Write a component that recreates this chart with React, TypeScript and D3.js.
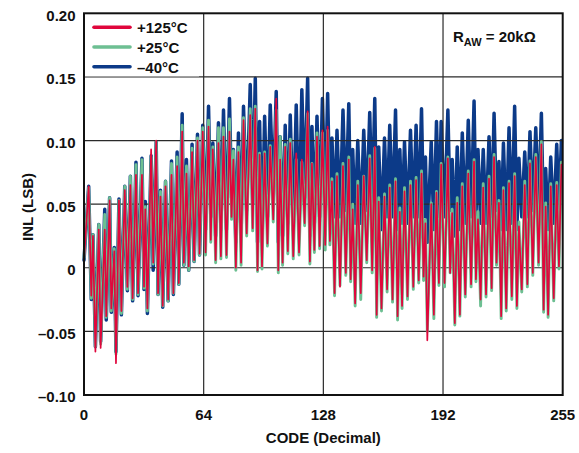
import React from "react";
import * as d3 from "d3";

// Codes (decimal) of the plotted points (peaks and troughs of the INL curves)
const CODES: number[] = [
  0, 2.5, 3.9, 4.8, 6.1, 7.9, 8.9, 11.1, 11.9, 13.7, 14.6, 16.2, 17.1, 18.7, 20.0, 21.8, 23.2, 24.8, 26.0, 27.8,
  28.9, 31.0, 32.1, 32.8, 33.9, 35.9, 37.0, 38.6, 39.6, 40.9, 42.1, 43.6, 45.0, 46.8, 47.8, 49.8, 50.7, 52.5, 53.4, 54.8,
  56.0, 57.8, 58.9, 60.7, 61.8, 63.5,
  65.0, 66.6, 67.8, 68.9, 70.4, 71.9, 73.2, 74.6, 76.2, 77.8, 78.9, 79.9, 81.2, 82.6, 84.0, 85.3, 87.0, 88.9, 90.2, 91.6,
  92.8, 93.9, 95.2, 96.6, 98.1, 99.6, 101.2, 102.8, 103.9, 104.9, 106.2, 107.6, 109.0, 110.3, 111.9, 113.5, 115.0, 116.5, 118.0, 119.6,
  120.8, 121.9, 123.2, 124.6, 126.0, 127.5,
  129.0, 130.3, 131.5, 132.6, 134.0, 135.3, 136.9, 138.5, 140.0, 141.6, 142.6, 143.7, 145.0, 146.4, 148.0, 149.6, 151.2, 152.8, 154.1, 155.5,
  156.5, 157.6, 159.1, 160.7, 162.1, 163.5, 165.0, 166.6, 167.7, 168.9, 170.1, 171.4, 173.0, 174.6, 176.1, 177.6, 179.0, 180.5, 181.6, 182.6,
  183.6, 185.7, 187.1, 188.5, 189.8, 191.0,
  192.8, 194.6, 195.8, 196.9, 198.3, 199.6, 201.0, 202.3, 203.9, 205.5, 207.0, 208.6, 209.6, 210.7, 212.1, 213.5, 215.0, 216.6, 218.0, 219.3,
  220.6, 221.9, 223.1, 224.3, 225.8, 227.3, 228.8, 230.3, 231.5, 232.6, 234.1, 235.7, 237.1, 238.5, 240.0, 241.6, 243.1, 244.6, 245.8, 246.9,
  248.2, 249.6, 251.2, 252.8, 254.0, 255.3,
];

// INL (LSB) at +125°C
const INL_125C: number[] = [
  0.005, 0.064, -0.022, 0.025, -0.066, 0.030, -0.063, 0.030, -0.038, 0.053, -0.032, 0.013, -0.075, 0.053, -0.034, 0.061, -0.015, 0.065, -0.024, 0.073,
  -0.020, 0.073, -0.015, 0.046, -0.032, 0.093, 0.004, 0.100, -0.020, 0.056, -0.030, 0.064, -0.025, 0.073, -0.020, 0.080, -0.012, 0.107, 0.004, 0.074,
  0.001, 0.091, 0.006, 0.100, 0.011, 0.107,
  0.012, 0.111, 0.022, 0.093, 0.006, 0.098, 0.009, 0.103, 0.010, 0.107, 0.040, 0.085, 0.000, 0.091, 0.004, 0.116, 0.027, 0.120, 0.031, 0.125,
  -0.002, 0.089, 0.001, 0.090, 0.019, 0.095, 0.038, 0.133, -0.002, 0.085, 0.004, 0.095, 0.013, 0.098, 0.009, 0.090, 0.012, 0.085, 0.035, 0.123,
  0.005, 0.082, 0.014, 0.103, 0.017, 0.108,
  0.018, 0.111, 0.021, 0.068, -0.020, 0.072, -0.015, 0.080, -0.004, 0.085, -0.009, 0.046, -0.028, 0.065, -0.020, 0.072, 0.006, 0.086, -0.002, 0.095,
  -0.037, 0.052, -0.032, 0.056, -0.017, 0.063, -0.025, 0.068, -0.038, 0.044, -0.030, 0.060, -0.0225, 0.065, -0.015, 0.069, -0.010, 0.074, -0.007, 0.035,
  -0.057, 0.050, -0.037, 0.059, -0.012, 0.081,
  -0.012, 0.086, -0.004, 0.043, -0.0435, 0.051, -0.037, 0.064, -0.021, 0.074, -0.013, 0.0835, -0.009, 0.038, -0.025, 0.063, -0.021, 0.070, -0.016, 0.087,
  0.004, 0.051, -0.038, 0.061, -0.032, 0.0665, -0.0225, 0.072, -0.030, 0.0325, -0.017, 0.065, -0.013, 0.082, -0.004, 0.087, 0.004, 0.097, -0.033, 0.048,
  -0.037, 0.064, -0.024, 0.065, 0.001, 0.081,
];

// INL (LSB) at +25°C
const INL_25C: number[] = [
  0.008, 0.063, -0.024, 0.026, -0.062, 0.034, -0.060, 0.042, -0.039, 0.055, -0.034, 0.015, -0.068, 0.053, -0.036, 0.064, -0.017, 0.072, -0.025, 0.081,
  -0.021, 0.085, -0.016, 0.048, -0.034, 0.087, 0.003, 0.099, -0.021, 0.060, -0.030, 0.068, -0.026, 0.082, -0.020, 0.087, -0.013, 0.112, 0.002, 0.080,
  -0.002, 0.094, 0.005, 0.102, 0.010, 0.110,
  0.010, 0.116, 0.020, 0.095, 0.004, 0.110, 0.007, 0.110, 0.008, 0.117, 0.038, 0.092, -0.002, 0.095, 0.002, 0.118, 0.025, 0.125, 0.029, 0.127,
  -0.003, 0.090, -0.001, 0.091, 0.017, 0.096, 0.036, 0.124, -0.004, 0.103, 0.002, 0.097, 0.011, 0.101, 0.007, 0.085, 0.010, 0.083, 0.033, 0.121,
  0.003, 0.082, 0.012, 0.106, 0.015, 0.106,
  0.014, 0.108, 0.018, 0.070, -0.022, 0.074, -0.014, 0.082, -0.006, 0.087, -0.011, 0.050, -0.030, 0.068, -0.025, 0.072, 0.004, 0.088, -0.004, 0.094,
  -0.039, 0.055, -0.034, 0.058, -0.019, 0.065, -0.027, 0.070, -0.041, 0.047, -0.032, 0.063, -0.025, 0.068, -0.017, 0.071, -0.012, 0.076, -0.010, 0.038,
  -0.050, 0.051, -0.040, 0.060, -0.014, 0.082,
  -0.015, 0.087, -0.004, 0.046, -0.045, 0.055, -0.038, 0.066, -0.023, 0.076, -0.015, 0.085, -0.011, 0.044, -0.030, 0.066, -0.023, 0.072, -0.018, 0.089,
  0.002, 0.053, -0.040, 0.063, -0.034, 0.068, -0.025, 0.074, -0.032, 0.036, -0.019, 0.068, -0.015, 0.084, -0.006, 0.089, 0.002, 0.099, -0.035, 0.051,
  -0.039, 0.066, -0.026, 0.067, -0.001, 0.083,
];

// INL (LSB) at –40°C
const INL_M40C: number[] = [
  0.006, 0.064, -0.025, 0.026, -0.062, 0.034, -0.058, 0.046, -0.041, 0.055, -0.035, 0.016, -0.066, 0.054, -0.037, 0.064, -0.018, 0.072, -0.026, 0.083,
  -0.022, 0.086, -0.017, 0.052, -0.036, 0.088, -0.002, 0.099, -0.021, 0.061, -0.031, 0.068, -0.026, 0.084, -0.021, 0.091, -0.013, 0.121, 0.002, 0.085,
  -0.002, 0.097, 0.005, 0.105, 0.010, 0.112,
  0.030, 0.127, 0.040, 0.098, 0.025, 0.114, 0.030, 0.124, 0.030, 0.133, 0.055, 0.093, 0.020, 0.106, 0.025, 0.127, 0.045, 0.144, 0.050, 0.149,
  0.020, 0.115, 0.020, 0.119, 0.040, 0.128, 0.055, 0.1385, 0.020, 0.103, 0.025, 0.112, 0.035, 0.120, 0.030, 0.128, 0.030, 0.140, 0.055, 0.149,
  0.025, 0.111, 0.035, 0.119, 0.040, 0.133,
  0.050, 0.137, 0.050, 0.102, 0.040, 0.108, 0.040, 0.124, 0.045, 0.129, 0.040, 0.093, 0.035, 0.100, 0.035, 0.108, 0.045, 0.122, 0.045, 0.133,
  0.030, 0.095, 0.030, 0.102, 0.040, 0.112, 0.040, 0.124, 0.030, 0.093, 0.035, 0.099, 0.035, 0.108, 0.040, 0.112, 0.040, 0.125, 0.040, 0.087,
  0.020, 0.099, 0.030, 0.115, 0.040, 0.115,
  0.040, 0.124, 0.045, 0.085, 0.025, 0.095, 0.030, 0.106, 0.035, 0.116, 0.040, 0.131, 0.040, 0.093, 0.035, 0.093, 0.035, 0.103, 0.040, 0.1215,
  0.045, 0.0835, 0.030, 0.098, 0.030, 0.110, 0.035, 0.127, 0.030, 0.086, 0.040, 0.091, 0.040, 0.107, 0.045, 0.110, 0.045, 0.1215, 0.030, 0.078,
  0.030, 0.087, 0.035, 0.097, 0.045, 0.100,
];

const X_TICKS: number[] = [0, 64, 128, 192, 256];
const X_TICK_LABELS: string[] = ["0", "64", "128", "192", "255"];
const Y_TICKS: number[] = [0.2, 0.15, 0.1, 0.05, 0, -0.05, -0.1];
const Y_TICK_LABELS: string[] = ["0.20", "0.15", "0.10", "0.05", "0", "–0.05", "–0.10"];

const SERIES = [
  { name: "+125°C", values: INL_125C, color: "#e0063c", width: 1.7 },
  { name: "+25°C", values: INL_25C, color: "#6dbf92", width: 2.9 },
  { name: "–40°C", values: INL_M40C, color: "#0c3a88", width: 3.5 },
];

const FONT = "'Liberation Sans', Arial, Helvetica, sans-serif";

export default function App() {
  const W = 579, H = 453;
  const L = 84, R = 562.7, T = 13.3, B = 395;
  const x = d3.scaleLinear().domain([0, 256]).range([L, R]);
  const y = d3.scaleLinear().domain([-0.1, 0.2]).range([B, T]);

  const mk = (vals: number[]) =>
    d3.line<number>().x((_, i) => x(CODES[i])).y((v) => y(v))(vals) || "";

  const blue = SERIES[2], green = SERIES[1], red = SERIES[0];
  const gridColor = "#2a2a2a";

  return (
    <div style={{ position: "fixed", left: 0, top: 0 }}>
      <svg width={W} height={H} style={{ display: "block", background: "#fff" }}>
        <rect x={0} y={0} width={W} height={H} fill="#fff" />
        <path d={mk(blue.values)} fill="none" stroke={blue.color} strokeWidth={blue.width}
          strokeLinejoin="round" strokeLinecap="round" />
        {Y_TICKS.filter((t) => t !== 0.2 && t !== -0.1).map((t) => (
          <line key={"gy" + t} x1={L} x2={R} y1={y(t)} y2={y(t)} stroke={gridColor} strokeWidth={1.2} />
        ))}
        {X_TICKS.filter((t) => t !== 0 && t !== 256).map((t) => (
          <line key={"gx" + t} x1={x(t)} x2={x(t)} y1={T} y2={B} stroke={gridColor} strokeWidth={1.2} />
        ))}
        <path d={mk(green.values)} fill="none" stroke={green.color} strokeWidth={green.width}
          strokeLinejoin="round" strokeLinecap="round" />
        <path d={mk(red.values)} fill="none" stroke={red.color} strokeWidth={red.width}
          strokeLinejoin="round" strokeLinecap="round" />
        <rect x={L + 1} y={T + 1} width={199 - L - 1} height={77 - T - 1.6} fill="#fff" />
        <rect x={L} y={T} width={R - L} height={B - T} fill="none" stroke="#111" strokeWidth={2} />
        {SERIES.map((s, i) => (
          <g key={s.name}>
            <line x1={94} x2={130} y1={27.3 + i * 19.7} y2={27.3 + i * 19.7} stroke={s.color} strokeWidth={3.6}
              strokeLinecap="round" />
            <text x={137} y={33 + i * 19.8} fontFamily={FONT} fontWeight="bold" fontSize={15} fill="#111">
              {s.name}
            </text>
          </g>
        ))}
        <text x={453} y={42} fontFamily={FONT} fontWeight="bold" fontSize={15} fill="#111">
          R<tspan fontSize={11} dy={3.5}>AW</tspan><tspan dy={-3.5}> = 20kΩ</tspan>
        </text>
        {Y_TICKS.map((t, i) => (
          <text key={"yl" + t} x={75.5} y={y(t) + 7.4} textAnchor="end" fontFamily={FONT} fontWeight="bold"
            fontSize={15} fill="#111">
            {Y_TICK_LABELS[i]}
          </text>
        ))}
        {X_TICKS.map((t, i) => (
          <text key={"xl" + t} x={x(t)} y={420} textAnchor="middle" fontFamily={FONT} fontWeight="bold"
            fontSize={15} fill="#111">
            {X_TICK_LABELS[i]}
          </text>
        ))}
        <text x={(L + R) / 2} y={443} textAnchor="middle" fontFamily={FONT} fontWeight="bold" fontSize={15} fill="#111">
          CODE (Decimal)
        </text>
        <text transform={`translate(33,${207}) rotate(-90)`} textAnchor="middle" fontFamily={FONT} fontWeight="bold"
          fontSize={15} fill="#111">
          INL (LSB)
        </text>
      </svg>
    </div>
  );
}
